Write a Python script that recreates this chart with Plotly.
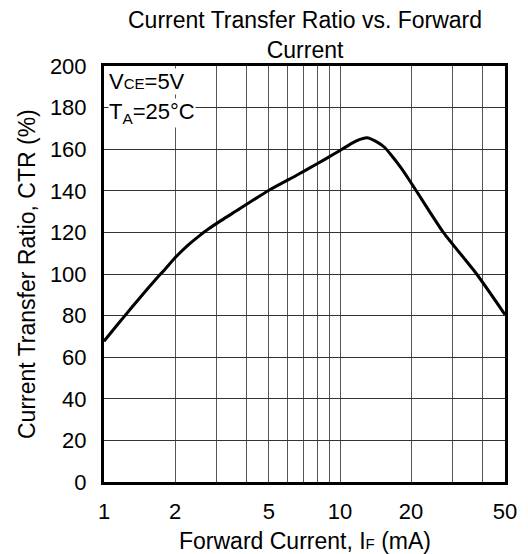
import numpy as np
import plotly.graph_objects as go

# Data (Forward current in mA, CTR in %)
forward_current = [1.0, 1.095, 1.227, 1.42, 1.645, 1.814, 2.0, 2.277, 2.51, 2.767, 3.153,
                   3.67, 5.0, 6.55, 8.0, 9.5, 10.2, 11.2, 12.15, 12.98, 14.31, 15.51,
                   16.82, 18.14, 19.8, 21.1, 27.4, 37.9, 50.0]
ctr_percent = [67.7, 73.2, 80.0, 88.6, 97.0, 102.3, 107.8, 114.0, 118.0, 121.6, 125.9,
               130.6, 140.3, 147.5, 153.0, 157.9, 160.0, 162.8, 164.7, 165.5, 163.5, 160.7,
               155.9, 151.0, 144.6, 139.8, 120.0, 100.0, 80.5]

x_grid_vals = [1, 2, 3, 4, 5, 6, 7, 8, 9, 10, 20, 30, 40, 50]
x_grid_text = ["1", "2", "", "", "5", "", "", "", "", "10", "20", "", "", "50"]
y_tick_vals = [0, 20, 40, 60, 80, 100, 120, 140, 160, 180, 200]

FONT = "Liberation Sans, Arial, sans-serif"

# The page body adds an 8px offset; size the figure so the plot box lands
# at x 104..505, y 66..482 in the 528x554 window.
W, H = 520, 546
ML, MR, MT, MB = 96, 23, 58, 72
PH = H - MT - MB
PW = W - ML - MR

fig = go.Figure()
fig.add_trace(go.Scatter(
    x=forward_current, y=ctr_percent, mode="lines",
    line=dict(color="black", width=3, shape="spline", smoothing=0.6),
    showlegend=False, hoverinfo="skip",
))

fig.update_layout(
    width=W, height=H,
    margin=dict(l=ML, r=MR, t=MT, b=MB),
    paper_bgcolor="white", plot_bgcolor="white",
    font=dict(family=FONT, color="black", size=22),
    xaxis=dict(
        type="log", range=[0, np.log10(50)],
        tickvals=x_grid_vals, ticktext=x_grid_text, tickangle=0,
        showgrid=True, gridcolor="#555", gridwidth=1,
        showline=True, linecolor="black", linewidth=3, mirror=True,
        ticks="", ticklabelstandoff=8, zeroline=False,
        tickfont=dict(size=22, family=FONT),
    ),
    yaxis=dict(
        range=[0, 200], tickvals=y_tick_vals,
        showgrid=True, gridcolor="#333", gridwidth=1,
        showline=True, linecolor="black", linewidth=3, mirror=True,
        ticks="", ticklabelstandoff=10, zeroline=False,
        tickfont=dict(size=22, family=FONT),
    ),
)

def px_x(px):
    return (px - 8 - ML) / PW

def px_y(py):
    return (H - MB + 8 - py) / PH

annotations = [
    dict(text="Current Transfer Ratio vs. Forward<br>Current", x=0.5, y=px_y(35),
         xref="paper", yref="paper", xanchor="center", yanchor="middle",
         showarrow=False, font=dict(size=23, family=FONT)),
    dict(text="Current Transfer Ratio, CTR (%)", x=px_x(27), y=0.5,
         xref="paper", yref="paper", xanchor="center", yanchor="middle", textangle=-90,
         showarrow=False, font=dict(size=23, family=FONT)),
    dict(text="Forward Current, I<span style='font-size:15px'>F</span> (mA)",
         x=0.5, y=px_y(541),
         xref="paper", yref="paper", xanchor="center", yanchor="middle",
         showarrow=False, font=dict(size=23, family=FONT)),
    dict(text="V<span style='font-size:15px'>CE</span>=5V", x=px_x(108), y=px_y(81),
         xref="paper", yref="paper", xanchor="left", yanchor="middle",
         showarrow=False, bgcolor="white", borderpad=0, font=dict(size=22, family=FONT)),
    dict(text="T<sub>A</sub>=25°C", x=px_x(108), y=px_y(113),
         xref="paper", yref="paper", xanchor="left", yanchor="middle",
         showarrow=False, bgcolor="white", borderpad=0, font=dict(size=22, family=FONT)),
]
fig.update_layout(annotations=annotations)

fig.write_html("out.html")
